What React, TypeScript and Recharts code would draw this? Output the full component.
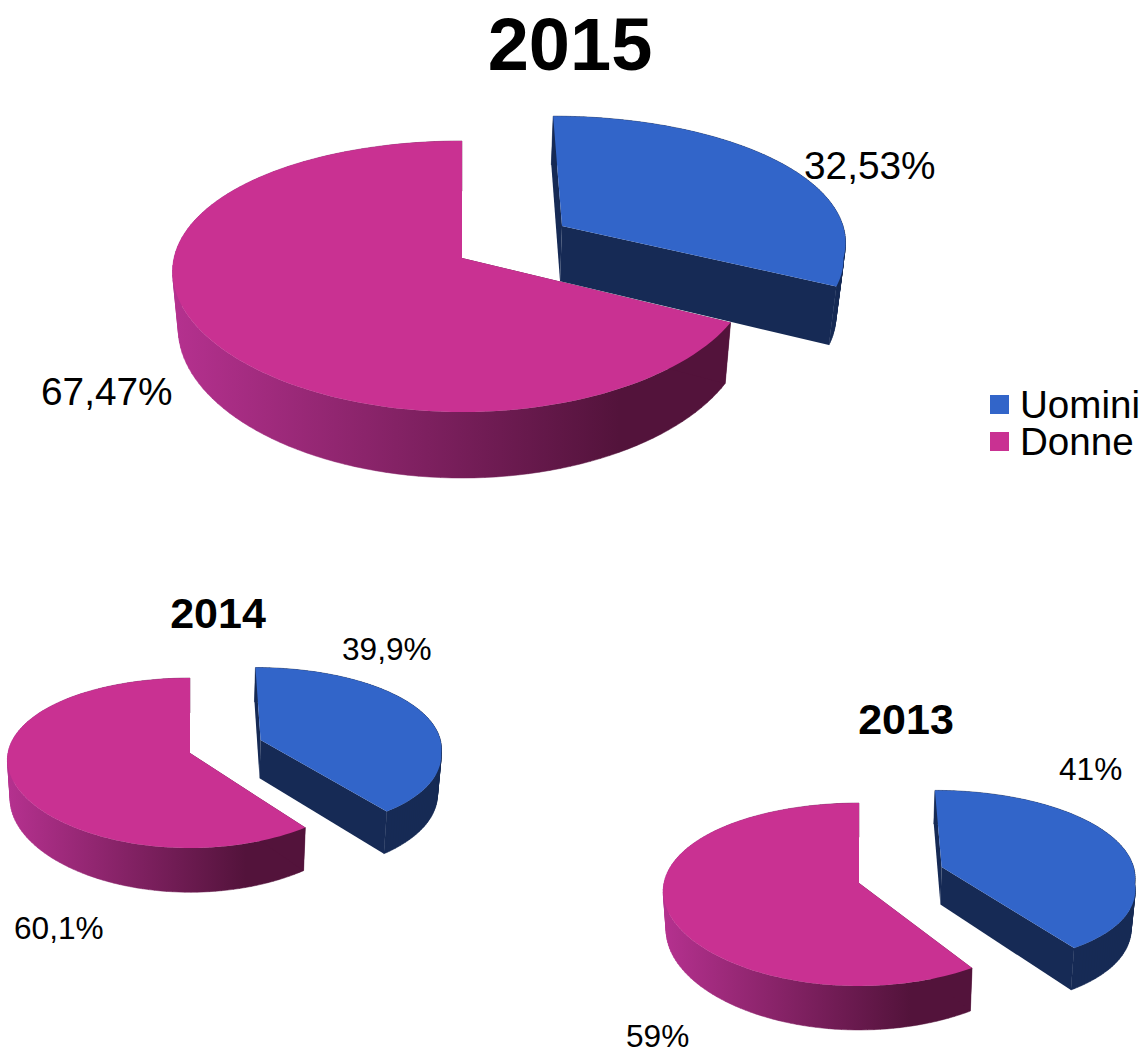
import { PieChart, Pie, Legend } from 'recharts';

// ── Data ──────────────────────────────────────────────────────────────────────

const categories = ['Uomini', 'Donne'];
const values2015 = [32.53, 67.47];
const values2014 = [39.9, 60.1];
const values2013 = [41, 59];
const labels2015 = ['32,53%', '67,47%'];
const labels2014 = ['39,9%', '60,1%'];
const labels2013 = ['41%', '59%'];

const topColors = ['#3265c9', '#c93192'];
const sideColors = ['#162a55', 'url(#donneSide)'];
const edgeColors = ['#162a55', '#53133b'];

const FONT = '"Liberation Sans", Arial, sans-serif';

// ── Perspective pie slice ─────────────────────────────────────────────────────

interface View {
  cx: number;
  cy: number;
  radius: number;
  squash: number; // vertical radius on screen
  tilt: number; // perspective strength, vertical
  tiltX: number; // perspective strength, horizontal
  frontTiltX: number; // same, for the front part of the exploded slice
  depth: number; // thickness of the pie
  shrink: number; // bottom plane is a bit smaller
  explode: [number, number]; // offset of the Uomini slice
  labelAt: [number, number][];
  labelSize: number;
}

const view2015: View = {
  cx: 462, cy: 258, radius: 288, squash: 133, tilt: 0.1365, tiltX: 0.1, frontTiltX: 0.2, depth: 57, shrink: 0.98,
  explode: [102.5, -71.5], labelAt: [[804, 179], [41, 405]], labelSize: 38.8,
};
const view2014: View = {
  cx: 190, cy: 753, radius: 182, squash: 83.8, tilt: 0.118, tiltX: 0.08, frontTiltX: 0.137, depth: 39, shrink: 0.985,
  explode: [71.5, -29], labelAt: [[342, 660], [14, 939]], labelSize: 31.6,
};
const view2013: View = {
  cx: 859, cy: 883, radius: 195, squash: 90, tilt: 0.1257, tiltX: 0.09, frontTiltX: 0.187, depth: 38.5, shrink: 0.985,
  explode: [84, -35.5], labelAt: [[1059, 780], [626, 1047]], labelSize: 31.6,
};

const toPath = (pts: number[][]) =>
  'M' + pts.map((p) => `${p[0].toFixed(2)},${p[1].toFixed(2)}`).join('L') + 'Z';

// same winding for every quad, so that overlaps near the tangents stay filled
function quadPath(a: number[], b: number[], c: number[], d: number[]) {
  const pts = [a, b, c, d];
  let area = 0;
  for (let i = 0; i < 4; i++) {
    const q = pts[(i + 1) % 4];
    area += pts[i][0] * q[1] - q[0] * pts[i][1];
  }
  return toPath(area < 0 ? pts.reverse() : pts);
}

function sliceShape(view: View) {
  return function Slice(props: any) {
    const { cx, cy, outerRadius: R, startAngle, endAngle, index } = props;
    const [ox, oy] = index === 0 ? view.explode : [0, 0];

    const project = (X: number, Y: number, bottom: boolean) => {
      const w = 1 - (view.tilt * Y) / R;
      const tx = index === 0 && Y > 0 ? view.frontTiltX : view.tiltX;
      const wx = 1 - (tx * Y) / R;
      const f = bottom ? view.shrink : 1;
      return [
        cx + (X * f) / wx,
        cy + ((view.squash / R) * Y) / w + (bottom ? view.depth / w : 0),
      ];
    };

    const steps = 120;
    const top: number[][] = [];
    const low: number[][] = [];
    for (let i = 0; i <= steps; i++) {
      const a = startAngle + ((endAngle - startAngle) * i) / steps;
      const phi = ((90 - a) * Math.PI) / 180;
      const X = ox + R * Math.sin(phi);
      const Y = oy - R * Math.cos(phi);
      top.push(project(X, Y, false));
      low.push(project(X, Y, true));
    }
    const apexTop = project(ox, oy, false);
    const apexLow = project(ox, oy, true);

    let side = '';
    for (let i = 0; i < steps; i++) {
      side += quadPath(top[i], top[i + 1], low[i + 1], low[i]);
    }

    return (
      <g>
        <path d={side} fill={sideColors[index]} stroke={sideColors[index]} strokeWidth={0.5} />
        <path d={toPath([apexTop, top[0], low[0], apexLow])} fill={edgeColors[index]} />
        <path d={toPath([apexTop, top[steps], low[steps], apexLow])} fill={edgeColors[index]} />
        <path d={toPath([apexTop, ...top])} fill={topColors[index]} />
      </g>
    );
  };
}

function valueLabel(view: View, labels: string[]) {
  return (props: any) => (
    <text
      x={view.labelAt[props.index][0]}
      y={view.labelAt[props.index][1]}
      fontFamily={FONT}
      fontSize={view.labelSize}
      fill="#000"
      textAnchor="start"
    >
      {labels[props.index]}
    </text>
  );
}

function toRows(values: number[]) {
  return categories.map((name, i) => ({ name, value: values[i] }));
}

function YearPie({ values, labels, view }: { values: number[]; labels: string[]; view: View }) {
  return (
    <Pie
      data={toRows(values)}
      dataKey="value"
      nameKey="name"
      cx={view.cx}
      cy={view.cy}
      outerRadius={view.radius}
      startAngle={90}
      endAngle={-270}
      stroke="none"
      shape={sliceShape(view)}
      label={valueLabel(view, labels)}
      labelLine={false}
      isAnimationActive={false}
    />
  );
}

function LegendBox() {
  return (
    <div style={{ fontFamily: FONT, fontSize: 38.6, lineHeight: '37px', color: '#000' }}>
      {categories.map((name, i) => (
        <div key={name} style={{ display: 'flex', alignItems: 'center', height: 37 }}>
          <span style={{ width: 19, height: 19, background: topColors[i], marginRight: 11 }} />
          {name}
        </div>
      ))}
    </div>
  );
}

const titleStyle = { fontFamily: FONT, fontWeight: 700, textAnchor: 'middle' as const };

export default function App() {
  return (
    <div style={{ position: 'absolute', left: 0, top: 0, width: 1146, height: 1049, background: '#fff', overflow: 'hidden' }}>
      <PieChart width={1146} height={1049} margin={{ top: 0, right: 0, bottom: 0, left: 0 }}>
        <defs>
          <linearGradient id="donneSide" x1="0" y1="0" x2="1" y2="0">
            <stop offset="0" stopColor="#b5318f" />
            <stop offset="0.8" stopColor="#53133b" />
            <stop offset="1" stopColor="#53133b" />
          </linearGradient>
        </defs>
        {YearPie({ values: values2015, labels: labels2015, view: view2015 })}
        {YearPie({ values: values2014, labels: labels2014, view: view2014 })}
        {YearPie({ values: values2013, labels: labels2013, view: view2013 })}
        <text x={570} y={70} fontSize={74} style={titleStyle}>2015</text>
        <text x={218} y={628} fontSize={43} style={titleStyle}>2014</text>
        <text x={906} y={734} fontSize={43} style={titleStyle}>2013</text>
        <Legend
          content={<LegendBox />}
          wrapperStyle={{ position: 'absolute', left: 990, top: 386, width: 156, bottom: 'auto' }}
        />
      </PieChart>
    </div>
  );
}
